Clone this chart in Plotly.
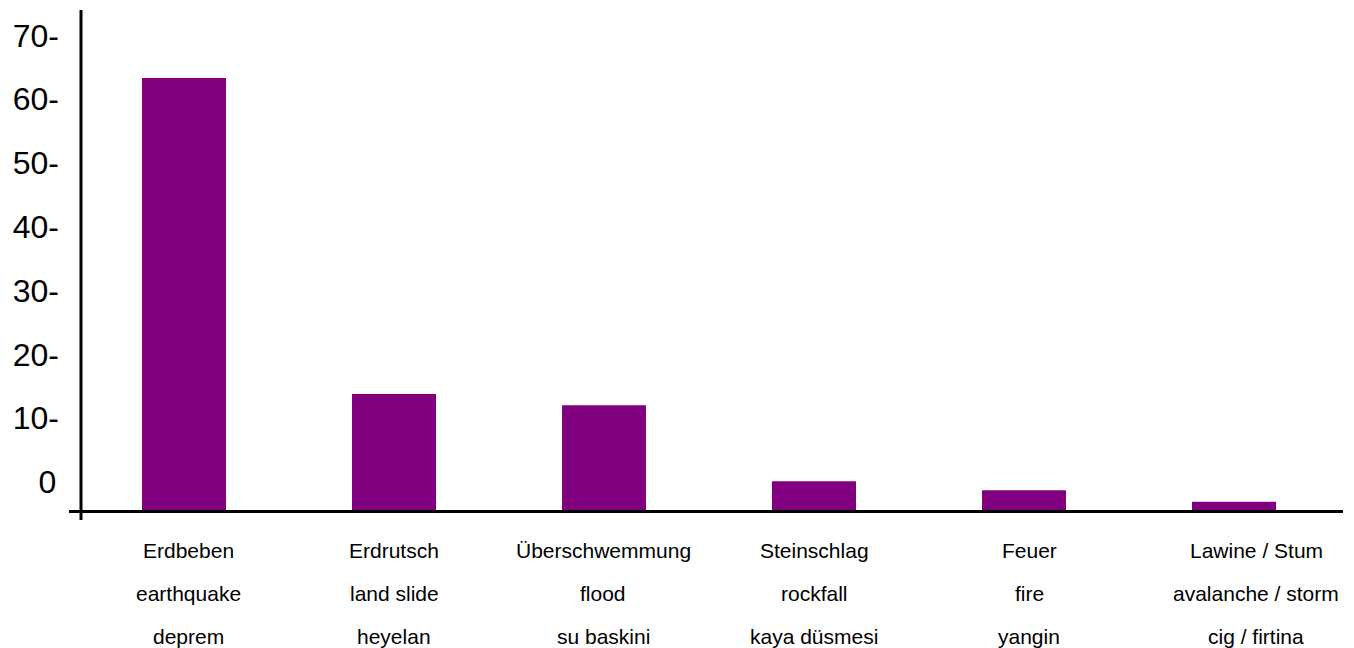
import plotly.graph_objects as go

# Hazard categories (German / English / Turkish) and counts
categories_de = ["Erdbeben", "Erdrutsch", "Überschwemmung", "Steinschlag", "Feuer", "Lawine / Stum"]
categories_en = ["earthquake", "land slide", "flood", "rockfall", "fire", "avalanche / storm"]
categories_tr = ["deprem", "heyelan", "su baskini", "kaya düsmesi", "yangin", "cig / firtina"]
values = [67.7, 18.2, 16.4, 4.5, 3.1, 1.3]

tick_values = [0, 10, 20, 30, 40, 50, 60, 70]
tick_labels = ["0\u200a", "10-", "20-", "30-", "40-", "50-", "60-", "70-"]

W, H = 1354, 648
ML, MR, MT, MB = 79, 15, 10, 138
PW = W - ML - MR
PH = H - MT - MB
PX_PER_UNIT = 6.38
FONT = "Arial, Liberation Sans, sans-serif"

# horizontal nudge (px) of each caption block relative to its bar
caption_xshift = [4, 0, -1, 0, 5, 22]

fig = go.Figure()
fig.add_trace(go.Bar(
    x=categories_de,
    y=values,
    marker=dict(color="#800080", line=dict(width=0)),
    width=0.4,
    hoverinfo="skip",
))

y_top = PH / PX_PER_UNIT
# the value labels sit a little above their nominal grid positions
label_shift = 28 / PX_PER_UNIT

# Category captions in three languages
annotations = []
for i in range(len(categories_de)):
    for row, texts in enumerate([categories_de, categories_en, categories_tr]):
        annotations.append(dict(
            x=i, xref="x", y=0, yref="paper",
            text=texts[i], showarrow=False,
            xanchor="center", yanchor="middle",
            xshift=caption_xshift[i],
            yshift=-(40 + 43 * row),
            font=dict(family=FONT, size=21, color="#000000"),
        ))


def px_x(p):
    return (p - ML) / PW


def px_y(p):
    return (H - MB - p) / PH


shapes = [
    # vertical axis line
    dict(type="line", xref="paper", yref="paper",
         x0=px_x(81), x1=px_x(81), y0=px_y(10), y1=px_y(520),
         line=dict(color="#000000", width=3)),
    # horizontal axis line
    dict(type="line", xref="paper", yref="paper",
         x0=px_x(69), x1=px_x(1343), y0=px_y(511.5), y1=px_y(511.5),
         line=dict(color="#000000", width=3)),
]

fig.update_layout(
    width=W, height=H,
    margin=dict(l=ML, r=MR, t=MT, b=MB, pad=0),
    paper_bgcolor="#ffffff", plot_bgcolor="#ffffff",
    showlegend=False,
    font=dict(family=FONT, color="#000000"),
    xaxis=dict(showticklabels=False, showline=False, showgrid=False,
               zeroline=False, ticks="", range=[-0.5, 5.5]),
    yaxis=dict(range=[0, y_top],
               tickmode="array",
               tickvals=[v + label_shift for v in tick_values],
               ticktext=tick_labels,
               tickfont=dict(family=FONT, size=32, color="#000000"),
               showline=False, showgrid=False, zeroline=False, ticks="",
               ticklabelstandoff=19),
    annotations=annotations,
    shapes=shapes,
    bargap=0.6,
)

fig.write_html("out.html")
